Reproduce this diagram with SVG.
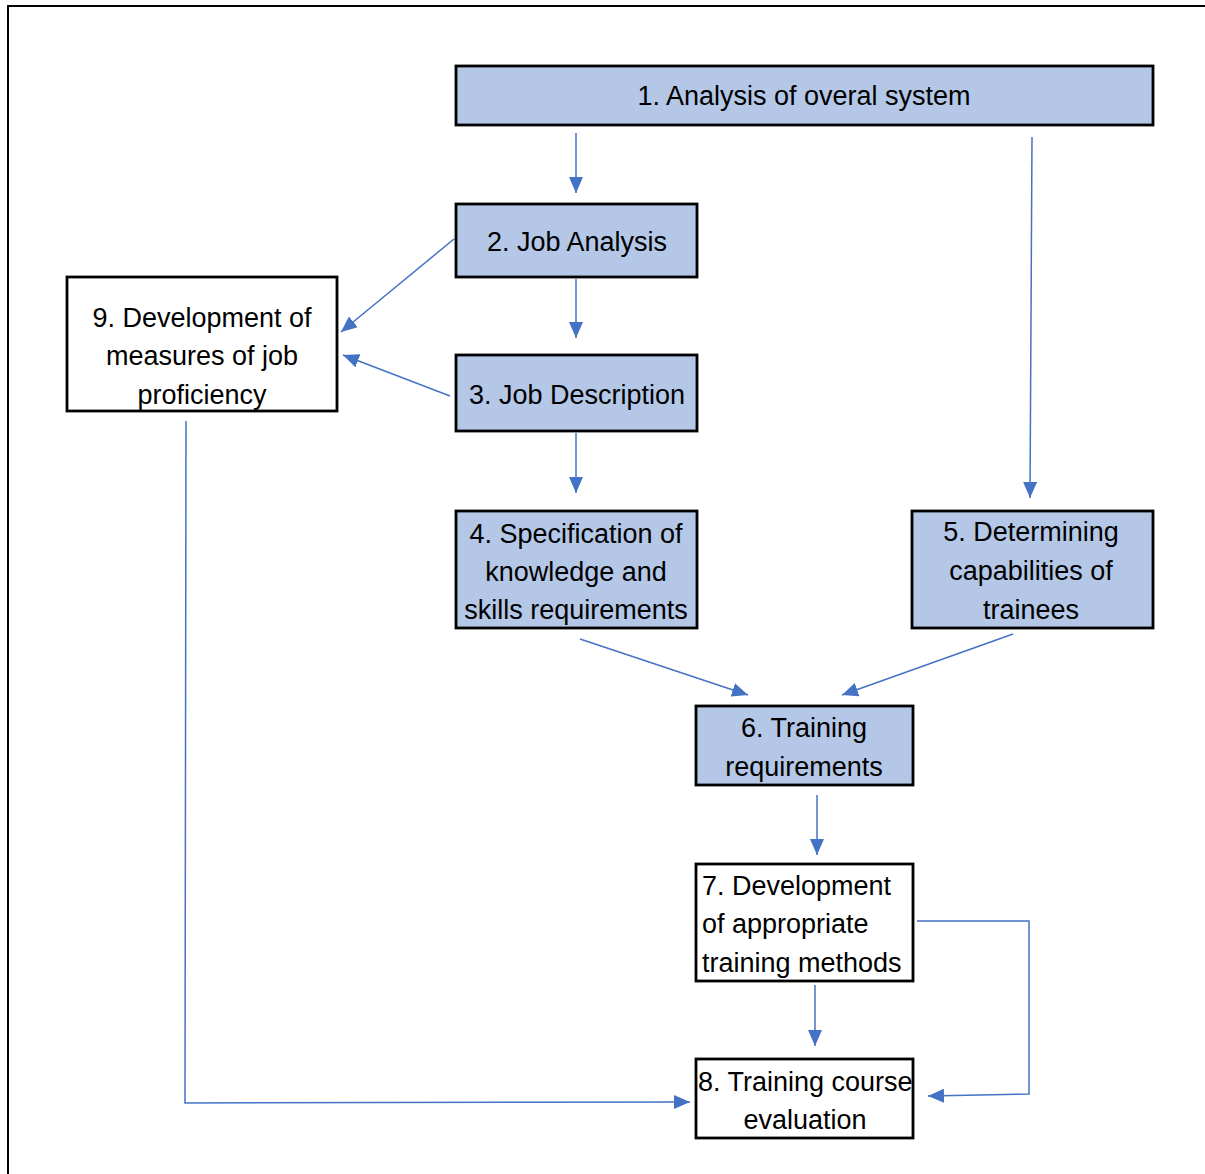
<svg xmlns="http://www.w3.org/2000/svg" width="1205" height="1174" viewBox="0 0 1205 1174">
<style>
.box{stroke:#000;stroke-width:2.8}
.blue{fill:#B4C7E7}
.white{fill:#fff}
text{font-family:"Liberation Sans",Arial,sans-serif;font-size:27px;fill:#000}
.c{text-anchor:middle}
.con{stroke:#4472C4;stroke-width:1.5;fill:none}
</style>
<defs>
<marker id="a" viewBox="0 0 16 14" refX="16" refY="7" markerWidth="16" markerHeight="14" markerUnits="userSpaceOnUse" orient="auto">
<path d="M0,0 L16,7 L0,14 Z" fill="#4472C4"/>
</marker>
</defs>
<rect width="1205" height="1174" fill="#fff"/>
<path d="M8,1174 V6 H1205" stroke="#000" stroke-width="2" fill="none"/>
<g id="connectors">
<line class="con" x1="576" y1="133" x2="576" y2="193" marker-end="url(#a)"/>
<line class="con" x1="1032" y1="137" x2="1030" y2="498" marker-end="url(#a)"/>
<line class="con" x1="576" y1="279" x2="576" y2="338" marker-end="url(#a)"/>
<line class="con" x1="576" y1="433" x2="576" y2="493" marker-end="url(#a)"/>
<line class="con" x1="454" y1="239" x2="341" y2="332" marker-end="url(#a)"/>
<line class="con" x1="450" y1="396" x2="343" y2="355" marker-end="url(#a)"/>
<line class="con" x1="580" y1="639" x2="748" y2="695" marker-end="url(#a)"/>
<line class="con" x1="1013" y1="634" x2="842" y2="695" marker-end="url(#a)"/>
<line class="con" x1="817" y1="795" x2="817" y2="855" marker-end="url(#a)"/>
<line class="con" x1="815" y1="985" x2="815" y2="1046" marker-end="url(#a)"/>
<polyline class="con" points="917,921 1029,921 1029,1094 928,1096" marker-end="url(#a)"/>
<polyline class="con" points="186,421 185,1103 690,1102" marker-end="url(#a)"/>
</g>
<g id="n1"><rect class="box blue" x="456" y="66" width="697" height="59"/><text class="c" x="804" y="105">1. Analysis of overal system</text></g>
<g id="n2"><rect class="box blue" x="456" y="204" width="241" height="73"/><text class="c" x="577" y="251">2. Job Analysis</text></g>
<g id="n3"><rect class="box blue" x="456" y="355" width="241" height="76"/><text class="c" x="577" y="404">3. Job Description</text></g>
<g id="n4"><rect class="box blue" x="456" y="511" width="241" height="117"/><text class="c" x="576" y="543">4. Specification of</text><text class="c" x="576" y="581">knowledge and</text><text class="c" x="576" y="619">skills requirements</text></g>
<g id="n5"><rect class="box blue" x="912" y="511" width="241" height="117"/><text class="c" x="1031" y="541">5. Determining</text><text class="c" x="1031" y="580">capabilities of</text><text class="c" x="1031" y="619">trainees</text></g>
<g id="n6"><rect class="box blue" x="696" y="706" width="217" height="79"/><text class="c" x="804" y="737">6. Training</text><text class="c" x="804" y="776">requirements</text></g>
<g id="n7"><rect class="box white" x="696" y="864" width="217" height="117"/><text x="702" y="895">7. Development</text><text x="702" y="933">of appropriate</text><text x="702" y="972">training methods</text></g>
<g id="n8"><rect class="box white" x="696" y="1059" width="217" height="79"/><text x="698" y="1091">8. Training course</text><text class="c" x="805" y="1129">evaluation</text></g>
<g id="n9"><rect class="box white" x="67" y="277" width="270" height="134"/><text class="c" x="202" y="327">9. Development of</text><text class="c" x="202" y="365">measures of job</text><text class="c" x="202" y="404">proficiency</text></g>
</svg>
